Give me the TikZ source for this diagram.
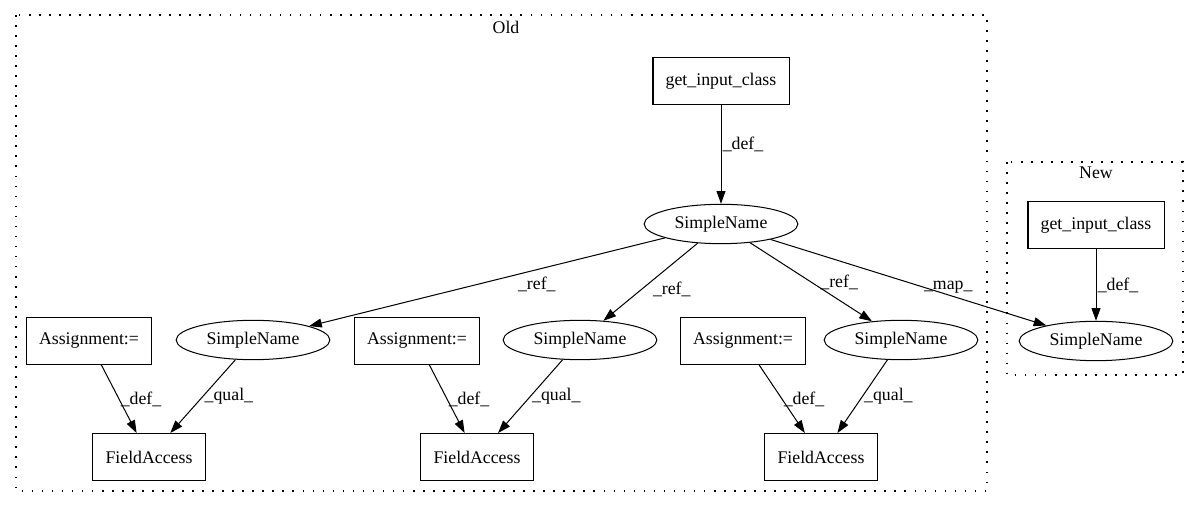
\documentclass[tikz,border=0pt]{standalone}
\usepackage{fontspec}
\setmainfont{Liberation Serif}
\usetikzlibrary{shapes.geometric,arrows.meta}
\tikzset{
	gvfont/.style={font=\fontsize{14}{16}\selectfont},
	box/.style={draw,rectangle,minimum height=37pt,inner xsep=10pt,line width=0.8pt,gvfont},
	oval/.style={draw,ellipse,minimum width=121pt,minimum height=31pt,inner sep=0pt,line width=0.8pt,gvfont},
	lbl/.style={inner sep=1pt,gvfont},
	arr/.style={-{Triangle[length=10pt,width=7pt]},line width=0.8pt},
	cluster/.style={line width=0.9pt,dash pattern=on 1.3pt off 6.6pt}
}
\begin{document}
\begin{tikzpicture}[x=0.7874pt,y=-0.7874pt]
		\useasboundingbox (0,0) rectangle (1200,508);
		% clusters
		\draw[cluster] (16,15) rectangle (987,491);
		\node[lbl] (oldtitle) at (506,27) {Old};
		\draw[cluster] (1007,162) rectangle (1183,375);
		\node[lbl] (newtitle) at (1096,173) {New};
		% old graph
		\node[box] (oldgic) at (721,81) {get\_input\_class};
		\node[oval] (oldsn) at (721,224) {SimpleName};
		\node[box] (asgA) at (89,341) {Assignment:=};
		\node[oval] (snA) at (253,340) {SimpleName};
		\node[box] (faA) at (149,457) {FieldAccess};
		\node[box] (asgB) at (417,341) {Assignment:=};
		\node[oval] (snB) at (580,340) {SimpleName};
		\node[box] (faB) at (477,457) {FieldAccess};
		\node[box] (asgC) at (743,341) {Assignment:=};
		\node[oval] (snC) at (901,340) {SimpleName};
		\node[box] (faC) at (821,457) {FieldAccess};
		% new graph
		\node[box] (newgic) at (1096,225) {get\_input\_class};
		\node[oval] (newsn) at (1096,341) {SimpleName};
		% edges
		\draw[arr] (oldgic) -- node[lbl,right,pos=0.4] {\_def\_} (oldsn);
		\draw[arr] (oldsn) -- node[lbl,below=4pt,pos=0.36] {\_ref\_} (snA);
		\draw[arr] (oldsn) -- node[lbl,right=8pt,pos=0.6] {\_ref\_} (snB);
		\draw[arr] (oldsn) -- node[lbl,right=6pt,pos=0.5] {\_ref\_} (snC);
		\draw[arr] (oldsn) -- node[lbl,right,pos=0.55] {\_map\_} (newsn);
		\draw[arr] (asgA) -- node[lbl,right,pos=0.5] {\_def\_} (faA);
		\draw[arr] (snA) -- node[lbl,right,pos=0.5] {\_qual\_} (faA);
		\draw[arr] (asgB) -- node[lbl,right,pos=0.5] {\_def\_} (faB);
		\draw[arr] (snB) -- node[lbl,right,pos=0.5] {\_qual\_} (faB);
		\draw[arr] (asgC) -- node[lbl,right,pos=0.5] {\_def\_} (faC);
		\draw[arr] (snC) -- node[lbl,right,pos=0.5] {\_qual\_} (faC);
		\draw[arr] (newgic) -- node[lbl,right,pos=0.5] {\_def\_} (newsn);
\end{tikzpicture}
\end{document}
